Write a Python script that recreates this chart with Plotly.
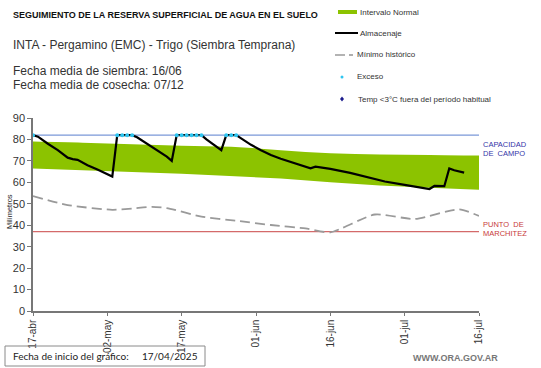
import plotly.graph_objects as go
import pandas as pd

W, H = 541, 368
L, R, T, B = 33, 62, 118, 57

START = "2025-04-17"
END = "2025-07-16"

# Normal interval band (days since start, lower, upper)
band_days = [0, 10, 20, 30, 40, 50, 60, 70, 80, 90]
band_low = [66.5, 65.5, 64.8, 64.0, 63.0, 61.8, 60.0, 58.5, 57.5, 56.5]
band_up = [79.0, 78.5, 77.8, 77.1, 76.6, 75.0, 73.6, 73.0, 72.8, 72.5]

# Almacenaje (storage)
alm_days = [0, 1, 3, 5, 7, 8, 9, 11, 13, 15, 16, 17, 18, 19, 20, 21, 23, 25, 27, 28,
            29, 30, 31, 32, 33, 34, 35, 37, 38, 39, 40, 41, 42, 44, 46, 48, 50, 52, 54,
            56, 57, 60, 64, 67, 71, 75, 80, 81, 83, 84, 85, 87]
alm_vals = [82, 81.3, 78, 75, 71.5, 70.8, 70.5, 68, 66, 64, 62.7, 82, 82, 82, 82, 81, 78, 75, 72, 70,
            82, 82, 82, 82, 82, 82, 80, 76.5, 75, 82, 82, 82, 80.5, 77.5, 75, 72.7, 71, 69.4, 68,
            66.5, 67.3, 66.3, 64.4, 62.6, 60.4, 58.8, 56.9, 58.3, 58.2, 66.5, 65.6, 64.5]

# Exceso (excess) days
exc_days = [0, 17, 18, 19, 20, 29, 30, 31, 32, 33, 34, 39, 40, 41]
exc_vals = [82] * len(exc_days)

# Minimo historico
min_days = [0, 7, 16, 20, 24, 27, 34, 41, 48, 55, 60, 69, 77, 86, 90]
min_vals = [53.6, 49.4, 47.2, 47.8, 48.6, 48.0, 44.0, 42.1, 40.1, 38.5, 36.7, 45.0, 42.9, 47.4, 44.3]

CAPACIDAD = 82
MARCHITEZ = 37

tick_dates = ["2025-04-17", "2025-05-02", "2025-05-17", "2025-06-01", "2025-06-16", "2025-07-01", "2025-07-16"]
tick_labels = ["17-abr", "02-may", "17-may", "01-jun", "16-jun", "01-jul", "16-jul"]

t0 = pd.Timestamp(START)
def dates(days):
    return [t0 + pd.Timedelta(days=d) for d in days]

GREEN = "#8CC300"
FONT = "Arial, Liberation Sans, sans-serif"

fig = go.Figure()
fig.add_trace(go.Scatter(x=dates(band_days), y=band_low, mode="lines",
                         line=dict(width=0, color=GREEN), showlegend=False, hoverinfo="skip"))
fig.add_trace(go.Scatter(x=dates(band_days), y=band_up, mode="lines", fill="tonexty",
                         fillcolor=GREEN, line=dict(width=0, color=GREEN, shape="spline"),
                         showlegend=False, hoverinfo="skip"))
fig.add_trace(go.Scatter(x=dates(min_days), y=min_vals, mode="lines",
                         line=dict(color="#9a9a9a", width=1.8, dash="10px,5px", shape="spline", smoothing=0.6),
                         showlegend=False))
fig.add_trace(go.Scatter(x=dates(alm_days), y=alm_vals, mode="lines",
                         line=dict(color="black", width=2.2), showlegend=False))
fig.add_trace(go.Scatter(x=dates(exc_days), y=exc_vals, mode="markers",
                         marker=dict(color="#2ec5f0", size=4), showlegend=False))

# reference lines
fig.add_shape(type="line", xref="paper", yref="y", x0=0, x1=1, y0=CAPACIDAD, y1=CAPACIDAD,
              line=dict(color="#7b98d8", width=1.2), layer="below")
fig.add_shape(type="line", xref="paper", yref="y", x0=0, x1=1, y0=MARCHITEZ, y1=MARCHITEZ,
              line=dict(color="#d46a6a", width=1.2), layer="below")

PW, PH = W - L - R, H - T - B
def px(x):
    return (x - L) / PW
def py(y):
    return (H - B - y) / PH

def text(x, y, s, size, color="#222", bold=False, xanchor="left", family=FONT, angle=0):
    if bold:
        s = "<b>" + s + "</b>"
    fig.add_annotation(xref="paper", yref="paper", x=px(x), y=py(y), text=s, showarrow=False,
                       xanchor=xanchor, yanchor="middle", textangle=angle,
                       font=dict(size=size, color=color, family=family))

text(11, 15, "SEGUIMIENTO DE LA RESERVA SUPERFICIAL DE AGUA EN EL SUELO", 9, "#111", bold=True)
text(11, 45, "INTA - Pergamino (EMC) - Trigo (Siembra Temprana)", 12, "#333")
text(11, 71, "Fecha media de siembra: 16/06", 12, "#333")
text(11, 85, "Fecha media de cosecha: 07/12", 12, "#333")

# legend (manual)
fig.add_shape(type="rect", xref="paper", yref="paper", x0=px(338), x1=px(357), y0=py(10), y1=py(14),
              fillcolor=GREEN, line=dict(width=0))
text(358, 12, "Intervalo Normal", 8, "#333")
fig.add_shape(type="line", xref="paper", yref="paper", x0=px(335), x1=px(358), y0=py(33), y1=py(33),
              line=dict(color="black", width=2))
text(358, 33, "Almacenaje", 8, "#333")
fig.add_shape(type="line", xref="paper", yref="paper", x0=px(335), x1=px(345), y0=py(55), y1=py(55),
              line=dict(color="#9a9a9a", width=1.5))
fig.add_shape(type="line", xref="paper", yref="paper", x0=px(349), x1=px(353), y0=py(55), y1=py(55),
              line=dict(color="#777", width=1.2))
text(355, 55, "Mínimo histórico", 8, "#333")
fig.add_shape(type="circle", xref="paper", yref="paper", x0=px(340.5), x1=px(343.5), y0=py(75.5), y1=py(78.5),
              fillcolor="#2ec5f0", line=dict(width=0))
text(355, 77, "Exceso", 8, "#333")
fig.add_shape(type="path", xref="paper", yref="paper",
              path=f"M {px(342)} {py(96.5)} L {px(344)} {py(99)} L {px(342)} {py(101.5)} L {px(340)} {py(99)} Z",
              fillcolor="#1a1a8c", line=dict(width=0))
text(356, 99, "Temp <3°C fuera del período habitual", 8, "#333")

# right side labels
text(481, 144, "CAPACIDAD", 7.5, "#3535a8")
text(481, 153, "DE  CAMPO", 7.5, "#3535a8")
text(481, 224, "PUNTO  DE", 7.5, "#c83a3a")
text(481, 233, "MARCHITEZ", 7.5, "#c83a3a")

# y title
text(9, 212, "Milímetros", 7.5, "#222", xanchor="center", angle=-90)

# bottom box
fig.add_shape(type="rect", xref="paper", yref="paper", x0=px(5), x1=px(205), y0=py(346), y1=py(366),
              line=dict(color="#8a8a8a", width=1), fillcolor="rgba(0,0,0,0)")
text(11, 356, "Fecha de inicio del gráfico:", 10, "#222", family="Lato, Arial, sans-serif")
text(140, 356, "17/04/2025", 10, "#222", family="Lato, Arial, sans-serif")
text(500, 358, "WWW.ORA.GOV.AR", 9, "#777", bold=True, xanchor="right")

fig.update_layout(
    width=W, height=H, margin=dict(l=L, r=R, t=T, b=B, pad=0, autoexpand=False),
    paper_bgcolor="white", plot_bgcolor="white", showlegend=False,
    font=dict(family=FONT, size=11, color="#333"),
)
fig.update_xaxes(type="date", range=[START, END], showgrid=False, zeroline=False, automargin=False,
                 tickvals=tick_dates, ticktext=tick_labels, tickangle=-90,
                 ticks="outside", ticklen=3, tickcolor="#777", showline=True, linecolor="#777",
                 linewidth=1.5, tickfont=dict(size=10, color="#333"))
fig.update_yaxes(range=[0, 90], dtick=10, showgrid=False, zeroline=False, automargin=False,
                 ticks="outside", ticklen=4, tickcolor="#777", showline=True, linecolor="#777",
                 linewidth=1.5, tickfont=dict(size=11, color="#333"))

fig.write_html("out.html", config={"displayModeBar": False},
               post_script="document.body.style.margin='0';document.body.style.overflow='hidden';")
